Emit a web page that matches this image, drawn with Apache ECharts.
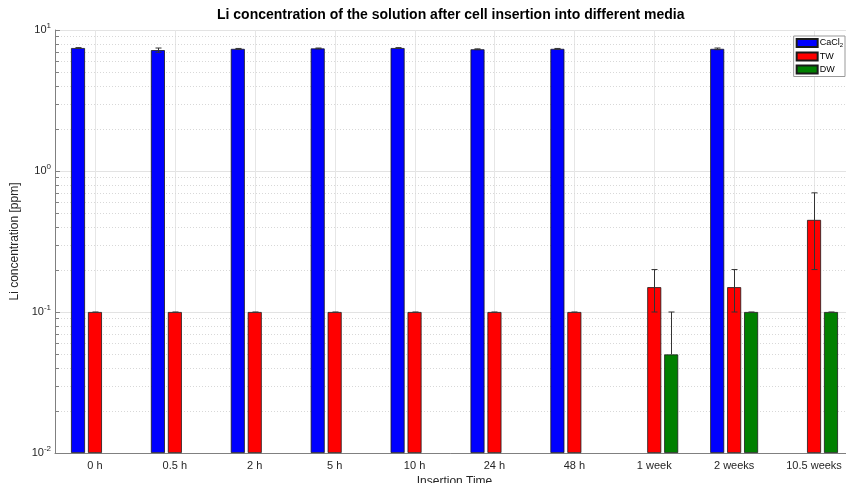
<!DOCTYPE html>
<html>
<head>
<meta charset="utf-8">
<script src="https://cdn.jsdelivr.net/npm/echarts@6/dist/echarts.min.js"></script>
<style>html,body{margin:0;padding:0;background:#fff}#c{width:846px;height:483px}</style>
</head>
<body>
<div id="c"></div>
<script>
const categories = ['0 h','0.5 h','2 h','5 h','10 h','24 h','48 h','1 week','2 weeks','10.5 weeks'];
const cacl2    = [7.45, 7.2, 7.35, 7.4, 7.45, 7.3, 7.35, null, 7.35, null];
const cacl2Err = [0.05, 0.25, 0.05, 0.05, 0.05, 0.05, 0.05, null, 0.1, null];
const tw       = [0.1, 0.1, 0.1, 0.1, 0.1, 0.1, 0.1, 0.15, 0.15, 0.45];
const twErr    = [0, 0, 0, 0, 0, 0, 0, 0.05, 0.05, 0.25];
const dw       = [null, null, null, null, null, null, null, 0.05, 0.1, 0.1];
const dwErr    = [null, null, null, null, null, null, null, 0.05, 0, 0];
const minorGrid = [0.02,0.03,0.04,0.05,0.06,0.07,0.08,0.09,0.2,0.3,0.4,0.5,0.6,0.7,0.8,0.9,2,3,4,5,6,7,8,9];

const FONT = '"Liberation Sans", Arial, Helvetica, sans-serif';
const chart = echarts.init(document.getElementById('c'));

function errData(vals, errs) {
  const out = [];
  vals.forEach((v, i) => { if (v != null) out.push([i, v, errs[i]]); });
  return out;
}
function errSeries(name, vals, errs, offset) {
  return {
    type: 'custom', name: name + '_err', z: 10, silent: true,
    data: errData(vals, errs),
    encode: { x: 0, y: 1 },
    renderItem: function (params, api) {
      const i = api.value(0), v = api.value(1), e = api.value(2);
      const c = api.coord([i, v]);
      const x = Math.round(c[0] + offset) + 0.5;
      const top = api.coord([i, v + e])[1];
      const hasLow = v - e > 0;
      const low = hasLow ? api.coord([i, v - e])[1] : c[1];
      const st = { stroke: '#333', lineWidth: 1 };
      const ch = [
        { type: 'line', shape: { x1: x, y1: low, x2: x, y2: top }, style: st },
        { type: 'line', shape: { x1: x - 3, y1: top, x2: x + 3, y2: top }, style: st }
      ];
      if (hasLow && e > 0) ch.push({ type: 'line', shape: { x1: x - 3, y1: low, x2: x + 3, y2: low }, style: st });
      return { type: 'group', children: ch };
    }
  };
}

const option = {
  animation: false,
  backgroundColor: '#fff',
  textStyle: { fontFamily: FONT },
  title: {
    text: 'Li concentration of the solution after cell insertion into different media',
    left: 217, top: 8, padding: 0,
    textStyle: { fontFamily: FONT, fontSize: 14, fontWeight: 'bold', color: '#000' }
  },
  legend: {
    orient: 'vertical', right: 1, top: 36,
    data: ['CaCl2', 'TW', 'DW'],
    itemWidth: 21, itemHeight: 8, itemGap: 3,
    padding: [2, 2, 2, 2],
    borderColor: '#999', borderWidth: 1, backgroundColor: '#fff',
    icon: 'rect',
    formatter: function (n) { return n === 'CaCl2' ? '{n|CaCl}{s|2}' : '{n|' + n + '}'; },
    textStyle: {
      fontFamily: FONT, fontSize: 9, color: '#000', padding: [0, 0, 0, -3],
      rich: { n: { fontSize: 9, fontFamily: FONT, color: '#000' }, s: { fontSize: 6, fontFamily: FONT, color: '#000', padding: [5, 0, 0, 0] } }
    }
  },
  grid: { left: 55, right: -8, top: 30, bottom: 30, containLabel: false, outerBoundsMode: 'none' },
  xAxis: {
    type: 'category', data: categories, boundaryGap: true,
    name: 'Insertion Time', nameLocation: 'middle', nameGap: 15,
    nameTextStyle: { fontFamily: FONT, fontSize: 12, color: '#262626' },
    axisLine: { lineStyle: { color: '#808080' } },
    axisTick: { show: false },
    axisLabel: { color: '#262626', fontSize: 11, margin: 7, fontFamily: FONT },
    splitLine: { show: false }
  },
  yAxis: {
    type: 'log', logBase: 10, min: 0.01, max: 10, startValue: 0.01,
    name: 'Li concentration [ppm]', nameLocation: 'middle', nameGap: 34,
    nameTextStyle: { fontFamily: FONT, fontSize: 12, color: '#262626' },
    axisLine: { show: true, lineStyle: { color: '#808080' } },
    axisTick: { show: true, inside: true, length: 5, lineStyle: { color: '#808080' } },
    axisLabel: {
      margin: 4,
      formatter: function (v) { return '{b|10}{s|' + Math.round(Math.log10(v)) + '}'; },
      rich: {
        b: { fontSize: 11, color: '#262626', fontFamily: FONT },
        s: { fontSize: 8, color: '#262626', fontFamily: FONT, padding: [0, 0, 8, 0] }
      }
    },
    splitLine: { show: true, lineStyle: { color: '#e3e3e3', width: 1 } }
  },
  series: [
    {
      type: 'custom', name: 'vgrid', z: 0, silent: true,
      data: categories.map((c, i) => [i, 1]),
      encode: { x: 0, y: 1 },
      renderItem: function (params, api) {
        const x = Math.round(api.coord([api.value(0), 1])[0]) + 0.5;
        const cs = params.coordSys;
        return { type: 'line', shape: { x1: x, y1: cs.y, x2: x, y2: cs.y + cs.height }, style: { stroke: '#e6e6e6', lineWidth: 1 } };
      }
    },
    {
      type: 'custom', name: 'minor', z: 1, silent: true,
      data: minorGrid.map(v => [0, v]),
      encode: { x: 0, y: 1 },
      renderItem: function (params, api) {
        const y = Math.round(api.coord([0, api.value(1)])[1]) + 0.5;
        const cs = params.coordSys;
        return { type: 'group', children: [
          { type: 'line', shape: { x1: cs.x, y1: y, x2: cs.x + cs.width, y2: y }, style: { stroke: '#d8d8d8', lineWidth: 1, lineDash: [1, 2] } },
          { type: 'line', shape: { x1: cs.x, y1: y, x2: cs.x + 4, y2: y }, style: { stroke: '#808080', lineWidth: 1 } }
        ] };
      }
    },
    { type: 'bar', name: 'CaCl2', data: cacl2, barWidth: 14, barGap: '21%', z: 5,
      itemStyle: { color: '#0000ff', borderColor: '#1a1a1a', borderWidth: 0.8 } },
    { type: 'bar', name: 'TW', data: tw, barWidth: 14, barGap: '21%', z: 5,
      itemStyle: { color: '#ff0000', borderColor: '#1a1a1a', borderWidth: 0.8 } },
    { type: 'bar', name: 'DW', data: dw, barWidth: 14, barGap: '21%', z: 5,
      itemStyle: { color: '#008000', borderColor: '#1a1a1a', borderWidth: 0.8 } },
    errSeries('CaCl2', cacl2, cacl2Err, -17),
    errSeries('TW', tw, twErr, 0),
    errSeries('DW', dw, dwErr, 17)
  ]
};
chart.setOption(option);
</script>
</body>
</html>
